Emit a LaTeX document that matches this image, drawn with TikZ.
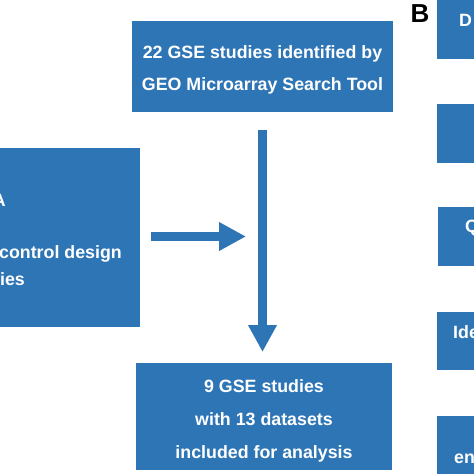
\documentclass[tikz,border=0pt]{standalone}
\usepackage{fontspec}
\setmainfont{Liberation Sans}
\usetikzlibrary{arrows.meta}
\definecolor{boxblue}{HTML}{2E75B6}
\tikzset{
  box/.style={fill=boxblue, draw=none, inner sep=0pt},
  boxtext/.style={inner sep=0pt, text=white, font=\bfseries\fontsize{17.8}{32}\selectfont, align=center},
  lbl/.style={text=white, font=\bfseries\fontsize{17.8}{20}\selectfont, inner sep=0pt},
  bigarrow/.style={draw=boxblue, line width=9pt, -{Triangle[width=27pt,length=27pt]}}
}
\begin{document}
\begin{tikzpicture}[x=1pt,y=-1pt]
\useasboundingbox (0,0) rectangle (474,474);
\clip (0,0) rectangle (474,474);
% top box
\node[box, minimum width=261pt, minimum height=91pt] (top) at (262.5,66.5) {};
\node[boxtext] (toptext) at (262.5,70) {22 GSE studies identified by\\GEO Microarray Search Tool};
% left box
\node[box, minimum width=200pt, minimum height=179pt] (left) at (40,237.5) {};
\node[lbl, anchor=base east] (la) at (6,206) {A};
\node[lbl, anchor=base east] (lb) at (122,258) {control design};
\node[lbl, anchor=base east] (lc) at (25,285) {ies};
% bottom box
\node[box, minimum width=256pt, minimum height=107pt] (bot) at (264,416.5) {};
\node[boxtext, font=\bfseries\fontsize{17.8}{33}\selectfont] (bottext) at (264,421) {9 GSE studies\\with 13 datasets\\included for analysis};
% right column
\node[box, minimum width=60pt, minimum height=69pt] (r1) at (467,24.5) {};
\node[box, minimum width=60pt, minimum height=59pt] (r2) at (467,133.5) {};
\node[box, minimum width=60pt, minimum height=59pt] (r3) at (468,236.5) {};
\node[box, minimum width=60pt, minimum height=58pt] (r4) at (467,341) {};
\node[box, minimum width=60pt, minimum height=70pt] (r5) at (467,451) {};
\node[lbl, anchor=base west] (t1) at (459,26) {D};
\node[lbl, anchor=base west] (t3) at (465,232) {Q};
\node[lbl, anchor=base west] (t4) at (453,338) {Ide};
\node[lbl, anchor=base west] (t5) at (454,463) {en};
\node[anchor=base west, inner sep=0pt, font=\bfseries\fontsize{26}{26}\selectfont] (B) at (410.5,22) {B};
% arrows
\coordinate (vs) at (262.5,130);
\coordinate (ve) at (262.5,352);
\draw[bigarrow] (vs) -- (ve);
\coordinate (hs) at (151,236.5);
\coordinate (he) at (246,236.5);
\draw[bigarrow] (hs) -- (he);
\end{tikzpicture}
\end{document}
